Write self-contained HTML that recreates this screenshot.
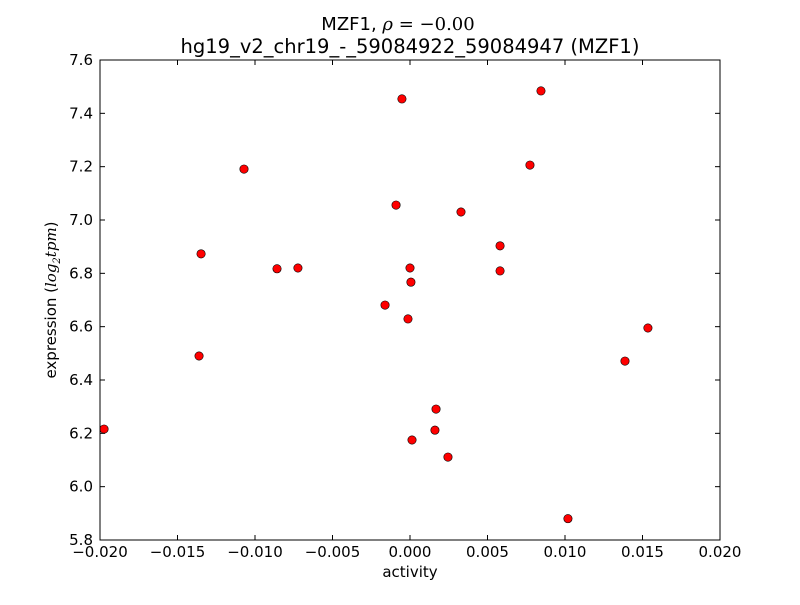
<!DOCTYPE html>
<html><head><meta charset="utf-8"><style>
body{margin:0;background:#fff;}
svg text{font-family:"DejaVu Sans","Liberation Sans",sans-serif;fill:#000;}
</style></head><body>
<svg id="chart" width="800" height="600">
<rect width="800" height="600" fill="#fff"/>
<text x="398" y="30" font-size="18" text-anchor="middle">MZF1, <tspan font-family="DejaVu Serif, serif" font-style="italic">ρ</tspan><tspan font-family="DejaVu Serif, serif"> = −0.00</tspan></text>
<text x="410" y="53" font-size="19.5" text-anchor="middle">hg19_v2_chr19_-_59084922_59084947 (MZF1)</text>
<g id="marks"></g>
<rect x="100" y="60" width="620" height="480" fill="none" stroke="#000" stroke-width="1"/>
<g id="axes"></g>
<text x="410" y="577" font-size="15" text-anchor="middle">activity</text>
<text transform="translate(56,300) rotate(-90)" font-size="15" text-anchor="middle">expression (<tspan font-family="DejaVu Serif, serif" font-style="italic">log</tspan><tspan font-family="DejaVu Serif, serif" font-style="italic" font-size="10" dy="4">2</tspan><tspan font-family="DejaVu Serif, serif" font-style="italic" dy="-4">tpm</tspan>)</text>
</svg>
<script>
const activity=[-0.01974,-0.01071,-0.01348,-0.01361,-0.00858,-0.00723,-0.00052,-0.00090,-0.00161,-0.00013,0.0,0.00006,0.00013,0.00168,0.00161,0.00245,0.00329,0.00581,0.00581,0.00774,0.00845,0.01019,0.01387,0.01535];
const expression=[6.216,7.191,6.873,6.490,6.817,6.820,7.454,7.056,6.681,6.629,6.820,6.767,6.175,6.291,6.212,6.111,7.030,6.903,6.809,7.206,7.484,5.880,6.471,6.595];
const xTicks=[-0.020,-0.015,-0.010,-0.005,0.000,0.005,0.010,0.015,0.020];
const xTickLabels=["−0.020","−0.015","−0.010","−0.005","0.000","0.005","0.010","0.015","0.020"];
const yTicks=[5.8,6.0,6.2,6.4,6.6,6.8,7.0,7.2,7.4,7.6];
const yTickLabels=["5.8","6.0","6.2","6.4","6.6","6.8","7.0","7.2","7.4","7.6"];
const NS="http://www.w3.org/2000/svg";
const xs=v=>100+(v+0.02)/0.04*620;
const ys=v=>540-(v-5.8)/1.8*480;
const marks=document.getElementById('marks'),axes=document.getElementById('axes');
function mk(t,a,p){const e=document.createElementNS(NS,t);for(const k in a)e.setAttribute(k,a[k]);p.appendChild(e);return e;}
activity.forEach((a,i)=>{
 const c=mk('circle',{cx:xs(a),cy:ys(expression[i]),r:4.2,fill:'#ff0000',stroke:'#000','stroke-width':0.6},marks);
 
 
});
xTicks.forEach((v,i)=>{
 const x=xs(v);
 mk('line',{x1:x,x2:x,y1:540,y2:535,stroke:'#000'},axes);
 mk('line',{x1:x,x2:x,y1:60,y2:65,stroke:'#000'},axes);
 const t=mk('text',{x:x,y:557,'font-size':15,'text-anchor':'middle'},axes);
 t.textContent=xTickLabels[i];
 
 
});
yTicks.forEach((v,i)=>{
 const y=ys(v);
 mk('line',{x1:100,x2:105,y1:y,y2:y,stroke:'#000'},axes);
 mk('line',{x1:715,x2:720,y1:y,y2:y,stroke:'#000'},axes);
 const t=mk('text',{x:93,y:y+5,'font-size':15,'text-anchor':'end'},axes);
 t.textContent=yTickLabels[i];
 
 
});
</script>
</body></html>
